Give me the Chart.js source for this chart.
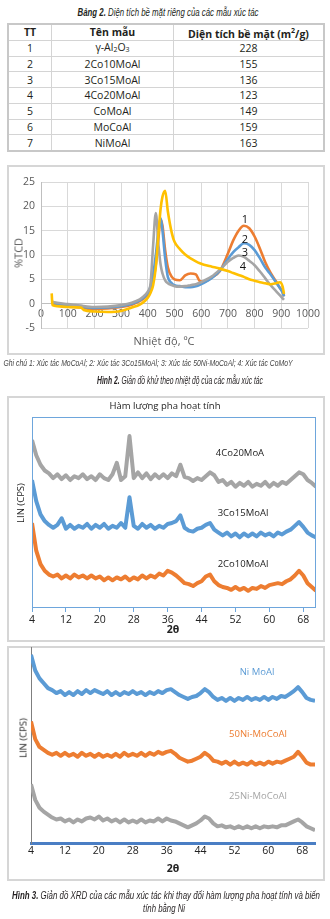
<!DOCTYPE html>
<html>
<head>
<meta charset="utf-8">
<script src="https://cdn.jsdelivr.net/npm/chart.js@4.4.1/dist/chart.umd.min.js"></script>
<style>
  html, body { margin:0; padding:0; background:#fff; }
  body { width:330px; height:919px; position:relative; overflow:hidden; font-family:"Open Sans", sans-serif; color:#231f20; }
  .abs { position:absolute; white-space:nowrap; }
  .c { transform:translate(-50%,-50%); }
  .cap { font-family:"Liberation Sans","Open Sans",sans-serif; font-style:italic; color:#231f20; }
  .box { position:absolute; border:2px solid #d6d6d6; box-sizing:border-box; }
  table { position:absolute; left:7px; top:23px; width:318px; border-collapse:collapse; font-size:10.5px; border:2px solid #c8c8c8; }
  tr { height:15.8px; }
  td, th { border:1px solid #d4d4d4; text-align:center; padding:0; line-height:12px; }
  th { font-weight:bold; }
  sub { font-size:7px; vertical-align:-1px; }
  canvas { position:absolute; }
</style>
</head>
<body>
<div class="abs c cap fit" data-w="181" style="left:167.5px;top:12px;font-size:11px;"><b>Bảng 2.</b> Diện tích bề mặt riêng của các mẫu xúc tác</div>
<table>
  <tr style="height:16px"><th style="width:42px">TT</th><th style="width:121px">Tên mẫu</th><th>Diện tích bề mặt (m<sup style="font-size:7px">2</sup>/g)</th></tr>
  <tr><td>1</td><td>γ-Al<sub>2</sub>O<sub>3</sub></td><td>228</td></tr>
  <tr><td>2</td><td>2Co10MoAl</td><td>155</td></tr>
  <tr><td>3</td><td>3Co15MoAl</td><td>136</td></tr>
  <tr><td>4</td><td>4Co20MoAl</td><td>123</td></tr>
  <tr><td>5</td><td>CoMoAl</td><td>149</td></tr>
  <tr><td>6</td><td>MoCoAl</td><td>159</td></tr>
  <tr><td>7</td><td>NiMoAl</td><td>163</td></tr>
</table>

<div class="box" style="left:7px;top:165px;width:318px;height:190px;"></div>
<canvas id="tpr" width="318" height="188" style="left:7px;top:166px;"></canvas>
<div class="abs c" style="left:18px;top:253px;transform:translate(-50%,-50%) rotate(-90deg);font-size:11px;color:#595959;">%TCD</div>
<div class="abs c" style="left:164px;top:340px;font-size:11px;color:#595959;">Nhiệt độ, ºC</div>
<div class="abs c" style="left:245px;top:218px;font-size:11px;color:#111;">1</div>
<div class="abs c" style="left:245px;top:238px;font-size:11px;color:#111;">2</div>
<div class="abs c" style="left:245px;top:251px;font-size:11px;color:#111;">3</div>
<div class="abs c" style="left:243px;top:265px;font-size:11px;color:#111;">4</div>
<div class="abs c cap fit" data-w="289" style="left:147.5px;top:363px;font-size:9px;color:#444;">Ghi chú 1: Xúc tác MoCoAl; 2: Xúc tác 3Co15MoAl; 3: Xúc tác 50Ni-MoCoAl; 4: Xúc tác CoMoY</div>
<div class="abs c cap fit" data-w="166" style="left:180px;top:380px;font-size:10px;"><b>Hình 2.</b> Giản đồ khử theo nhiệt độ của các mẫu xúc tác</div>

<div class="box" style="left:7px;top:396px;width:318px;height:246px;"></div>
<canvas id="xrd1" width="318" height="245" style="left:7px;top:396px;"></canvas>
<div class="abs c" style="left:165px;top:405px;font-size:9.5px;color:#222;">Hàm lượng pha hoạt tính</div>
<div class="abs c" style="left:20px;top:503px;transform:translate(-50%,-50%) rotate(-90deg);font-size:9.5px;color:#222;">LIN (CPS)</div>
<div class="abs c" style="left:173px;top:629px;font-size:10.5px;font-weight:bold;color:#222;">2θ</div>
<div class="abs c" style="left:240px;top:452px;font-size:9.5px;color:#222;">4Co20MoA</div>
<div class="abs c" style="left:243px;top:512px;font-size:9.5px;color:#222;">3Co15MoAl</div>
<div class="abs c" style="left:243px;top:563px;font-size:9.5px;color:#222;">2Co10MoAl</div>

<div class="box" style="left:7px;top:646px;width:318px;height:235px;"></div>
<canvas id="xrd2" width="318" height="235" style="left:7px;top:646px;"></canvas>
<div class="abs c" style="left:23px;top:738px;transform:translate(-50%,-50%) rotate(-90deg);font-size:9.5px;color:#222;">LIN (CPS)</div>
<div class="abs c" style="left:173px;top:868px;font-size:10.5px;font-weight:bold;color:#222;">2θ</div>
<div class="abs c" style="left:257px;top:671px;font-size:9.5px;color:#5b9bd5;">Ni MoAl</div>
<div class="abs c" style="left:258px;top:733px;font-size:9.5px;color:#ed7d31;">50Ni-MoCoAl</div>
<div class="abs c" style="left:258px;top:795px;font-size:9.5px;color:#a5a5a5;">25Ni-MoCoAl</div>
<div class="abs c cap fit" data-w="308" style="left:166px;top:895px;font-size:11px;"><b>Hình 3.</b> Giản đồ XRD của các mẫu xúc tác khi thay đổi hàm lượng pha hoạt tính và biến</div>
<div class="abs c cap fit" data-w="42" style="left:164px;top:908px;font-size:11px;">tính bằng Ni</div>

<script>
// ---- TPR (Hình 2) ----
const tprTemps = [40,43,60,100,150,160,200,250,300,340,370,390,400,410,420,430,440,448,455,465,475,490,500,520,540,560,580,595,610,640,670,700,720,740,760,780,800,820,840,860,880,895,905,910];
const tprOrange = [0.3,0.1,-0.2,-0.5,-0.8,-0.9,-1.1,-1.0,-0.7,-0.2,0.5,1.3,2,3,4.8,8,13.5,17.3,16,11,7.5,5.5,5,4.8,5.8,6.2,6,4.6,4.5,5.4,6.7,10.3,13,15,16,15.5,13.8,11.3,8.5,6.3,4.6,3.2,2.5,1.5];
const tprBlue = [0.4,0.3,0,-0.3,-0.6,-0.7,-0.9,-0.8,-0.5,0,0.7,1.5,2.2,3.5,6,10,15,17.6,15,9.3,5.5,4.2,3.8,3.6,3.4,3.4,3.6,3.9,4.3,5.3,6.8,9.2,10.6,11.6,12.4,12.1,11,9.3,7.4,6,4.4,3.2,2.3,1.5];
const tprGray = [0.5,0.4,0.2,-0.1,-0.4,-0.5,-0.7,-0.6,-0.3,0.2,0.9,1.8,2.5,4,12,18.6,12,8,6.2,4.8,4.2,3.8,3.6,3.5,3.6,3.8,4,4.3,4.7,5.6,7,8.6,9.4,9.9,9.6,8.8,7.9,6.6,5.2,3.8,2.6,1.7,1.1,0.8];
const tprYellow = [2.1,-0.3,-0.5,-0.7,-0.8,-1.3,-1.6,-1.7,-1.5,-0.8,-0.2,0.6,1.2,2.2,3.8,7.5,14.5,19.5,22,23.2,19,14.5,12.7,11.2,10.1,9.3,8.7,8.3,8,7.6,7.2,6.7,6.3,5.9,5.5,5,4.7,4.4,4.2,4,4.2,4.4,3.5,2];
const tprXTicks = [0,100,200,300,400,500,600,700,800,900,1000];
const tprYTicks = [-5,0,5,10,15,20,25];

// ---- XRD (Hình 3) ----
const twoTheta = [4,5,6,7,8,9,10,11,12,13,14,15,16,17,18,19,20,21,22,23,24,25,26,27,28,29,30,31,32,33,34,35,36,37,38,39,40,41,42,43,44,45,46,47,48,49,50,51,52,53,54,55,56,57,58,59,60,61,62,63,64,65,66,67,68,69,70,71];
const xrdTicks = [4,12,20,28,36,44,52,60,68];
const co20 = [88,80,75,72,70.5,68,70,67.5,69.5,67, 69,68,70,67.5,69,67,70,68,67,70, 76,67,69,90,68,71,68,70.5,67.5,70, 68,70,68,70.5,69,75,68.5,68,66.5,68, 67,69,71,69.5,66,67,64.5,66,63.5,65.5, 64,66,63.5,65,64,66,63.5,65.5,64,66, 65,67,69,71,70,67,65.5,63.5];
const co15 = [67,56,49,45.5,43.5,42,43.5,47,41.5,43.5, 41.5,43,42,44,41.5,43.5,42,44,41.5,43, 42,44.5,42,58,43,41.5,44,42,43.5,41.5, 43,42,44,44.5,45.5,48.5,42,40.5,40,41.5, 42,43.5,44.5,41,39.5,38,39.5,37.5,39,37, 39,37.5,39,37.5,39.5,38,39,37.5,39.5,38.5, 40,41,43,45,42.5,39.5,38,37];
const co10 = [44.5,30,23,19.5,17.5,16.5,17.5,15.5,17,15.5, 17.5,16,17,15.5,17,15.5,16.5,14.5,16,14.5, 16,15,16.5,14.5,16,15,17,15.5,17,16, 18,17,19.5,18.5,17,15,13,12.5,11.5,13, 14,16.5,17.5,14,12,11,10.5,9.5,11,9.5, 10.5,9,10.5,10,11.5,10.5,12,12.5,13,12.5, 14,15,17,19.5,17,13,11,9];
const niMoAl = [96,88,84,81.5,79,78,76.5,77.5,75.5,77, 75.5,77.5,76,78,76.5,78,77,76,77.5,75.5, 77,75.5,77,76,77.5,76,77,75.5,77,76, 77.5,76.5,78,78.5,77,75.5,74.5,73.5,74.5,75, 76.5,78.5,77,74.5,73,74,72.5,74,72.5,74, 73,74.5,73,74,73,74.5,73,74.5,73.5,75, 74.5,76,77.5,79.5,77,74,73,72.5];
const ni50 = [62,53,49,47.5,46,45,46,44.5,46,44.5, 45.5,44,46,44.5,45.5,44,45.5,44,45,44, 45.5,44,46,44.5,45.5,44.5,46,44.5,46,45, 46.5,45.5,46.5,47,45.5,43.5,42.5,41.5,42,43, 44,46,44.5,42,41.5,40.5,41.5,40,41.5,40, 41,40,41.5,40,41,40,41.5,40.5,41.5,41, 42,43,44,46.5,44,41,40,40];
const ni25 = [30,22,18,16,14.5,13,12,12.5,11,12, 10.5,12,11,12.5,13,12,13.5,11.5,12.5,11, 12,10.5,12,10.5,11.5,10.5,12,10.5,11.5,11, 12.5,11,12.5,11.5,11,10,9,8,9,10, 11.5,13.5,12.5,10,8.5,9,8,8.5,7.5,8.5, 7.5,8.5,7.5,8.5,7.5,8.5,8,8.5,8,9, 9,10,11,12,10.5,8.5,7.5,6.5];

// fit caption widths
document.querySelectorAll('.fit').forEach(el => {
  const w = el.getBoundingClientRect().width;
  const target = parseFloat(el.dataset.w);
  el.style.transform = 'translate(-50%,-50%) scaleX(' + (target / w) + ')';
});

const ORANGE = '#ed7d31', BLUE = '#5b9bd5', GRAY = '#a5a5a5', YELLOW = '#ffc000';
const pts = (xs, ys) => xs.map((x, i) => ({ x: x, y: ys[i] }));
const plain = v => String(v);

function tprSet(label, data, color, order) {
  return { label, data: pts(tprTemps, data), borderColor: color, borderWidth: 2.6, pointRadius: 0,
           fill: false, cubicInterpolationMode: 'monotone', order };
}

new Chart(document.getElementById('tpr'), {
  type: 'line',
  data: { datasets: [
    tprSet('1', tprOrange, ORANGE, 3),
    tprSet('2', tprBlue, BLUE, 2),
    tprSet('3', tprGray, GRAY, 1),
    tprSet('4', tprYellow, YELLOW, 0)
  ]},
  options: {
    responsive: false, animation: false, devicePixelRatio: 1,
    layout: { padding: { top: 16, right: 17, bottom: 26, left: 0 } },
    plugins: { legend: { display: false }, tooltip: { enabled: false } },
    scales: {
      x: {
        type: 'linear', min: 0, max: 1000, position: { y: 0 },
        afterBuildTicks: s => { s.ticks = tprXTicks.map(v => ({ value: v })); },
        grid: { color: '#d9d9d9', drawTicks: false },
        border: { color: '#bfbfbf' },
        ticks: { font: { family: 'Open Sans', size: 10.5 }, color: '#595959', padding: 4, maxRotation: 0, autoSkip: false, callback: plain }
      },
      y: {
        type: 'linear', min: -5, max: 25,
        afterBuildTicks: s => { s.ticks = tprYTicks.map(v => ({ value: v })); },
        afterFit: s => { s.width = 34; },
        grid: { color: '#d9d9d9', drawTicks: false },
        border: { color: '#bfbfbf' },
        ticks: { font: { family: 'Open Sans', size: 10.5 }, color: '#595959', padding: 6, callback: plain }
      }
    }
  }
});

function xrdSet(data, color) {
  return { data: pts(twoTheta, data), borderColor: color, borderWidth: 4, borderJoinStyle: 'round',
           pointRadius: 0, fill: false, tension: 0 };
}

const framePlugin = {
  id: 'frame',
  afterDatasetsDraw(chart, args, opts) {
    if (!opts.color) return;
    const a = chart.chartArea, ctx = chart.ctx;
    ctx.save(); ctx.strokeStyle = opts.color; ctx.lineWidth = 1;
    ctx.strokeRect(a.left + 0.5, a.top + 0.5, a.right - a.left - 1, a.bottom - a.top - 1);
    ctx.restore();
  }
};

function xrdOptions(frame, padTop, padRight, yWidth, xHeight, xBorder, xGrid, yBorder) {
  return {
    responsive: false, animation: false, devicePixelRatio: 1,
    layout: { padding: { top: padTop, right: padRight, bottom: 0, left: 0 } },
    plugins: { legend: { display: false }, tooltip: { enabled: false }, frame: { color: frame } },
    scales: {
      x: {
        type: 'linear', min: 4, max: 71,
        afterBuildTicks: s => { s.ticks = xrdTicks.map(v => ({ value: v })); },
        afterFit: s => { s.height = xHeight; },
        grid: xGrid,
        border: xBorder,
        ticks: { font: { family: 'Open Sans', size: 10.5 }, color: '#222', padding: 2, maxRotation: 0, autoSkip: false, callback: plain }
      },
      y: {
        type: 'linear', min: 0, max: 100,
        afterFit: s => { s.width = yWidth; },
        grid: { display: false },
        border: yBorder,
        ticks: { display: false }
      }
    }
  };
}

new Chart(document.getElementById('xrd1'), {
  type: 'line',
  data: { datasets: [ xrdSet(co20, GRAY), xrdSet(co15, BLUE), xrdSet(co10, ORANGE) ] },
  options: xrdOptions('#6ea6dc', 21, 9, 25, 33,
    { display: false },
    { drawOnChartArea: false, drawTicks: true, tickLength: 4, color: '#6ea6dc' },
    { display: false }),
  plugins: [framePlugin]
});

new Chart(document.getElementById('xrd2'), {
  type: 'line',
  data: { datasets: [ xrdSet(niMoAl, BLUE), xrdSet(ni50, ORANGE), xrdSet(ni25, GRAY) ] },
  options: xrdOptions(null, 1, 10, 24, 38,
    { color: '#4a7ec4', width: 3 },
    { drawOnChartArea: false, drawTicks: false },
    { color: '#7f7f7f', width: 1 }),
  plugins: [framePlugin]
});
</script>
</body>
</html>
